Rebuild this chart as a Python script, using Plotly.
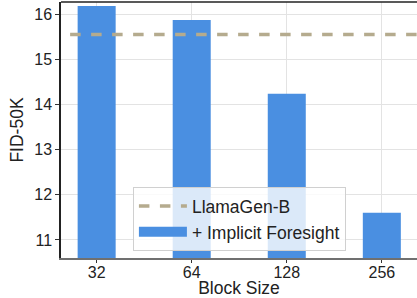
import plotly.graph_objects as go

block_sizes = ["32", "64", "128", "256"]
fid_values = [16.18, 15.87, 14.24, 11.6]
baseline_fid = 15.55
y_ticks = [11, 12, 13, 14, 15, 16]

positions = list(range(len(block_sizes)))
bar_color = "#4a8fe1"

fig = go.Figure()
fig.add_trace(go.Bar(
    x=positions, y=fid_values, name="+ Implicit Foresight", showlegend=False,
    marker=dict(color=bar_color, line=dict(width=0)), width=0.4,
))
fig.add_trace(go.Scatter(
    x=[-0.5, len(block_sizes) - 0.5], y=[baseline_fid, baseline_fid], mode="lines",
    name="LlamaGen-B", line=dict(color="#b5ab8e", width=3.5, dash="dash"),
))
# legend entry for bars drawn as a wide patch
fig.add_trace(go.Scatter(
    x=[None], y=[None], mode="lines", name="+ Implicit Foresight",
    line=dict(color=bar_color, width=12),
))

fig.update_layout(
    width=417, height=298,
    margin=dict(l=61, r=0, t=2, b=40),
    plot_bgcolor="white", paper_bgcolor="white",
    font=dict(family="Liberation Sans, Arial", size=16, color="#222"),
    showlegend=True,
    legend=dict(
        x=0.202, y=0.027, xanchor="left", yanchor="bottom",
        bgcolor="rgba(255,255,255,0.8)", bordercolor="#d0d0d0", borderwidth=1,
        font=dict(size=17.5, color="#222"),
        itemwidth=48, tracegroupgap=0,
    ),
    xaxis=dict(
        range=[-0.375, 3.37], tickvals=positions, ticktext=block_sizes,
        showgrid=True, gridcolor="#e3e3e3", gridwidth=1,
        showline=True, linecolor="#707070", linewidth=2,
        ticks="outside", ticklen=3, tickcolor="#333", ticklabelstandoff=-4,
        title=dict(text="Block Size", standoff=9, font=dict(size=17.5)),
        zeroline=False, automargin=False, layer="above traces",
    ),
    yaxis=dict(
        range=[10.6, 16.27], tickvals=y_ticks,
        showgrid=True, gridcolor="#e3e3e3", gridwidth=1,
        showline=True, linecolor="#222", linewidth=1.5,
        ticks="outside", ticklen=4, tickcolor="#333",
        title=dict(text="FID-50K", standoff=6, font=dict(size=17.5)),
        zeroline=False, automargin=False, layer="above traces",
    ),
    shapes=[dict(type="line", xref="paper", yref="paper", x0=0, x1=1, y0=1, y1=1,
                 line=dict(color="#222", width=1.5), layer="above")],
)

fig.write_html(
    "out.html",
    config={"displayModeBar": False},
    post_script="document.body.style.margin='0';document.body.style.overflow='hidden';",
)
